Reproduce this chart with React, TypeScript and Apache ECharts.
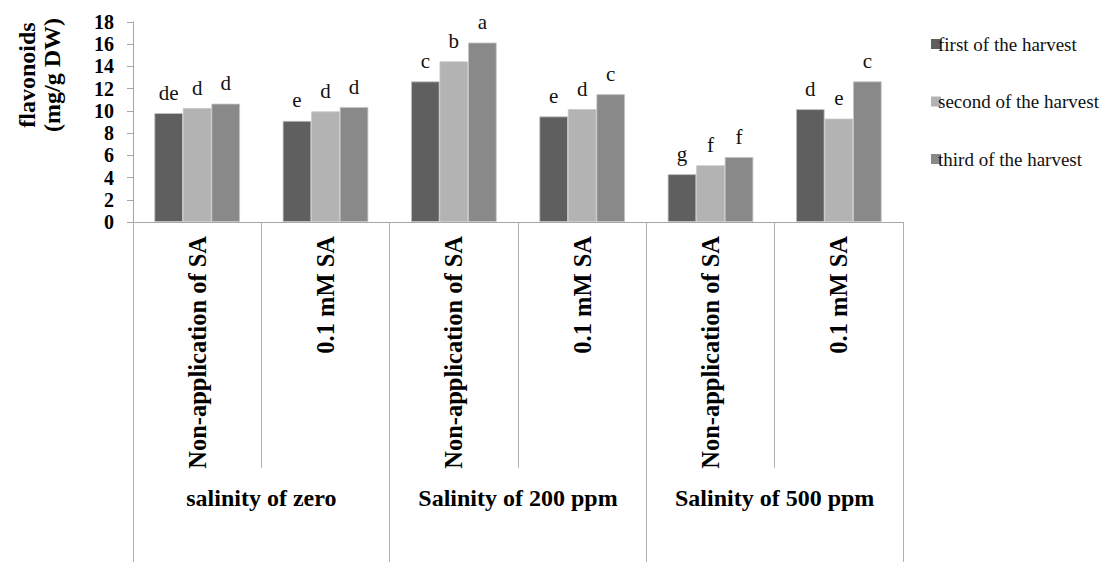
import React, { useEffect, useRef } from "react";
import * as echarts from "echarts";

const categories = [
  "Non-application of SA",
  "0.1 mM SA",
  "Non-application of SA",
  "0.1 mM SA",
  "Non-application of SA",
  "0.1 mM SA",
];
const groups = ["salinity of zero", "Salinity of 200 ppm", "Salinity of 500 ppm"];
const seriesNames = ["first of the harvest", "second of the harvest", "third of the harvest"];
const firstValues = [9.8, 9.1, 12.65, 9.5, 4.3, 10.15];
const secondValues = [10.25, 9.95, 14.45, 10.15, 5.1, 9.3];
const thirdValues = [10.65, 10.35, 16.15, 11.5, 5.85, 12.65];
const firstLetters = ["de", "e", "c", "e", "g", "d"];
const secondLetters = ["d", "d", "b", "d", "f", "e"];
const thirdLetters = ["d", "d", "a", "c", "f", "c"];
const colors = ["#5f5f5f", "#b3b3b3", "#898989"];

const FONT = "Liberation Serif";

export default function App() {
  const ref = useRef<HTMLDivElement>(null);
  useEffect(() => {
    document.body.style.margin = "0";
    const chart = echarts.init(ref.current!, null, { renderer: "svg" });
    const values = [firstValues, secondValues, thirdValues];
    const letters = [firstLetters, secondLetters, thirdLetters];
    chart.setOption({
      animation: false,
      backgroundColor: "#ffffff",
      textStyle: { fontFamily: FONT },
      grid: { left: 133, top: 22, width: 770, height: 200 },
      legend: {
        orient: "vertical",
        left: 926,
        top: 29,
        itemWidth: 10,
        itemHeight: 10,
        itemGap: 37.5,
        icon: "rect",
        itemStyle: { borderWidth: 0 },
        textStyle: { fontFamily: FONT, fontSize: 19, color: "#111", lineHeight: 20, padding: [0, 0, 0, -8] },
        data: seriesNames,
      },
      xAxis: [
        {
          type: "category",
          data: categories,
          position: "bottom",
          axisLine: { show: true, lineStyle: { color: "#a6a6a6", width: 1 } },
          axisTick: { show: true, length: 246, interval: 0, lineStyle: { color: "#b0b0b0", width: 1 } },
          axisLabel: {
            interval: 0,
            rotate: 90,
            margin: 14,
            fontFamily: FONT,
            fontSize: 24.5,
            fontWeight: "bold",
            color: "#000",
          },
        },
        {
          type: "category",
          data: groups,
          position: "bottom",
          offset: 246,
          axisLine: { show: false },
          axisTick: { show: true, length: 94, interval: 0, lineStyle: { color: "#b0b0b0", width: 1 } },
          axisLabel: {
            interval: 0,
            margin: 18,
            fontFamily: FONT,
            fontSize: 24,
            fontWeight: "bold",
            color: "#000",
          },
        },
      ],
      yAxis: {
        type: "value",
        min: 0,
        max: 18,
        interval: 2,
        axisLine: { show: true, lineStyle: { color: "#a6a6a6", width: 1 } },
        axisTick: { show: true, length: 6, lineStyle: { color: "#a6a6a6" } },
        splitLine: { show: false },
        axisLabel: {
          margin: 19,
          fontFamily: FONT,
          fontSize: 20,
          lineHeight: 18,
          fontWeight: "bold",
          color: "#000",
        },
      },
      graphic: [
        {
          type: "text",
          x: 39,
          y: 75,
          rotation: Math.PI / 2,
          style: {
            text: "flavonoids\n(mg/g DW)",
            font: `bold 24px ${FONT}`,
            fill: "#000",
            align: "center",
            verticalAlign: "middle",
            lineHeight: 25,
          },
        },
      ],
      series: seriesNames.map((name, i) => ({
        name,
        type: "bar",
        xAxisIndex: 0,
        data: values[i],
        barGap: "0%",
        barCategoryGap: "33.3%",
        itemStyle: { color: colors[i], borderColor: "#c4c4c4", borderWidth: 0.8 },
        label: {
          show: true,
          position: "top",
          distance: 10,
          fontFamily: FONT,
          fontSize: 21,
          color: "#111",
          formatter: (p: any) => letters[i][p.dataIndex],
        },
      })),
    });
    return () => chart.dispose();
  }, []);
  return <div ref={ref} style={{ width: 1105, height: 562 }} />;
}
